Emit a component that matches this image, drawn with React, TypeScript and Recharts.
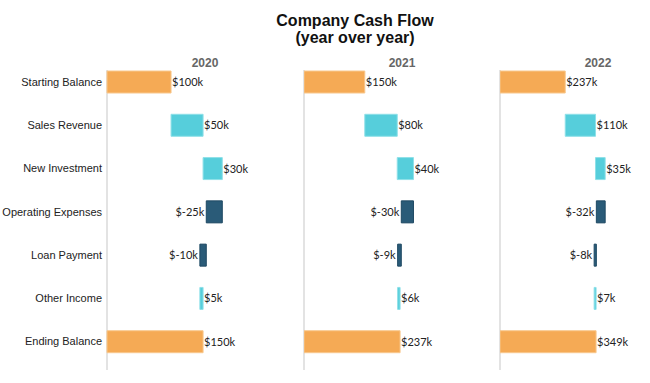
import { BarChart, Bar, XAxis, YAxis, Cell, LabelList } from "recharts";

const categories = [
  "Starting Balance",
  "Sales Revenue",
  "New Investment",
  "Operating Expenses",
  "Loan Payment",
  "Other Income",
  "Ending Balance",
];
const years = ["2020", "2021", "2022"];

// values in $k, one entry per year
const startingBalance = [100, 150, 237];
const salesRevenue = [50, 80, 110];
const newInvestment = [30, 40, 35];
const operatingExpenses = [-25, -30, -32];
const loanPayment = [-10, -9, -8];
const otherIncome = [5, 6, 7];
const endingBalance = [150, 237, 349];

const ORANGE = "#F5AA55";
const CYAN = "#56CEDB";
const NAVY = "#2A5B78";

const PANEL_LEFT = [107, 304, 500];
const PANEL_W = 196;
const CHART_TOP = 60;
const CHART_H = 303;

interface Row {
  name: string;
  range: [number, number];
  value: number;
  kind: "total" | "up" | "down";
}

function buildRows(i: number): Row[] {
  const deltas = [
    salesRevenue[i],
    newInvestment[i],
    operatingExpenses[i],
    loanPayment[i],
    otherIncome[i],
  ];
  const rows: Row[] = [
    { name: categories[0], range: [0, startingBalance[i]], value: startingBalance[i], kind: "total" },
  ];
  let run = startingBalance[i];
  deltas.forEach((d, k) => {
    const next = run + d;
    rows.push({
      name: categories[k + 1],
      range: [Math.min(run, next), Math.max(run, next)],
      value: d,
      kind: d >= 0 ? "up" : "down",
    });
    run = next;
  });
  rows.push({ name: categories[6], range: [0, endingBalance[i]], value: endingBalance[i], kind: "total" });
  return rows;
}

const fillFor = (k: Row["kind"]) => (k === "total" ? ORANGE : k === "up" ? CYAN : NAVY);
const strokeFor = (k: Row["kind"]) => (k === "total" ? "#F8C88E" : k === "up" ? "#8EE0E8" : "#1E4862");

function ValueLabel(props: any) {
  const { x, y, width, height, index, rows } = props;
  const row: Row = rows[index];
  const neg = row.value < 0;
  return (
    <text
      x={neg ? x - 2 : x + width + 1}
      y={y + height / 2 + 4}
      textAnchor={neg ? "end" : "start"}
      fontFamily="Lato, 'Open Sans', sans-serif"
      fontSize={11}
      fill="#222"
    >
      {`$${row.value}k`}
    </text>
  );
}

function CategoryTick(props: any) {
  const { x, y, payload } = props;
  return (
    <text
      x={x + 6}
      y={y + 4}
      textAnchor="end"
      fontFamily="'Liberation Sans', Arial, sans-serif"
      fontSize={11}
      fill="#222"
    >
      {payload.value}
    </text>
  );
}

function Panel({ idx }: { idx: number }) {
  const rows = buildRows(idx);
  const first = idx === 0;
  const yw = first ? PANEL_LEFT[0] : 0;
  const domainMax = endingBalance[idx] * 2.04;
  return (
    <div style={{ position: "absolute", left: PANEL_LEFT[idx] - yw, top: CHART_TOP }}>
      <BarChart
        layout="vertical"
        width={PANEL_W + yw}
        height={CHART_H}
        data={rows}
        margin={{ top: 0, right: 0, bottom: 0, left: 0 }}
        barCategoryGap={0}
      >
        <XAxis type="number" domain={[0, domainMax]} hide />
        <YAxis
          type="category"
          dataKey="name"
          width={yw}
          hide={!first}
          axisLine={false}
          tickLine={false}
          tickMargin={5}
          tick={<CategoryTick />}
        />
        <Bar dataKey="range" barSize={22} isAnimationActive={false}>
          {rows.map((r, k) => (
            <Cell key={k} fill={fillFor(r.kind)} stroke={strokeFor(r.kind)} strokeWidth={1} />
          ))}
          <LabelList dataKey="range" content={(p: any) => <ValueLabel {...p} rows={rows} />} />
        </Bar>
      </BarChart>
    </div>
  );
}

export default function App() {
  return (
    <div
      style={{
        position: "absolute",
        left: 0,
        top: 0,
        width: 650,
        height: 383,
        background: "#fff",
        overflow: "hidden",
        fontFamily: "'Liberation Sans', Arial, sans-serif",
      }}
    >
      <div
        style={{
          position: "absolute",
          left: 255,
          width: 200,
          top: 12,
          textAlign: "center",
          fontWeight: "bold",
          fontSize: 16,
          lineHeight: "17px",
          color: "#111",
        }}
      >
        Company Cash Flow
        <br />
        (year over year)
      </div>
      {years.map((y, i) => (
        <div key={y}>
          <div
            style={{
              position: "absolute",
              left: PANEL_LEFT[i] + PANEL_W / 2 - 30,
              width: 60,
              top: 56,
              textAlign: "center",
              fontWeight: "bold",
              fontSize: 12,
              color: "#666",
            }}
          >
            {y}
          </div>
          <div
            style={{
              position: "absolute",
              left: PANEL_LEFT[i] - 1,
              top: 70,
              width: 2,
              height: 300,
              background: "#e3e3e3",
            }}
          />
        </div>
      ))}
      {years.map((y, i) => (
        <Panel key={y} idx={i} />
      ))}
    </div>
  );
}
